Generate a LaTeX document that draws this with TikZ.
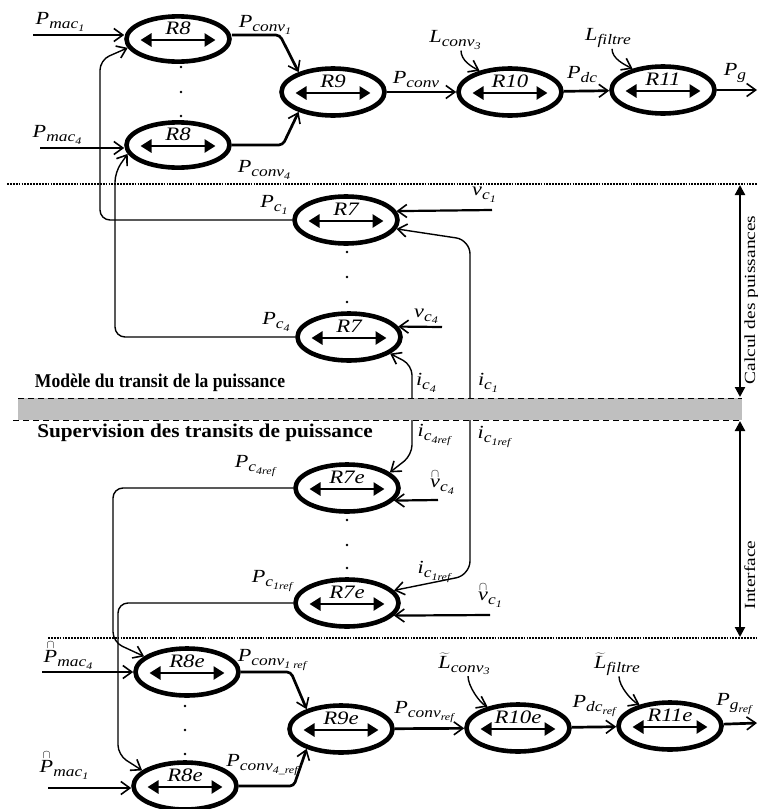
\documentclass[tikz,border=0pt]{standalone}
\usepackage{fontspec}
\setmainfont{Liberation Serif}
\newfontfamily\lblfont[FakeStretch=1.2]{Liberation Serif}
\newfontfamily\narrowbf[FakeStretch=0.9]{Liberation Serif}
\newfontfamily\widebf[FakeStretch=1.09]{Liberation Serif}
\newfontfamily\sidefont[FakeStretch=1.25]{Liberation Serif}
\usetikzlibrary{arrows.meta,shapes.geometric}
\newcommand\sbi[1]{\raisebox{-4pt}{\fontsize{14.5}{15}\selectfont #1}}
\newcommand\sbii[1]{\raisebox{-2.5pt}{\fontsize{10}{11}\selectfont #1}}
\newcommand\hatarc[1]{$\stackrel{\cap}{\hbox{#1}}$}
\newcommand\tld[1]{$\widetilde{\hbox{#1}}$}

\begin{document}
\begin{tikzpicture}[x=1pt,y=-1pt,
    ell/.style={ellipse,draw,line width=4.6pt,minimum width=103pt,minimum height=47pt,inner sep=0pt,
      font=\lblfont\fontsize{19}{21}\selectfont\itshape,text height=11pt,text depth=21pt,
      path picture={\draw[dbl] ([xshift=14pt,yshift=-1pt]path picture bounding box.west)
        -- ([xshift=-14pt,yshift=-1pt]path picture bounding box.east);}},
    dbl/.style={line width=2.8pt,{Triangle[length=11pt,width=13pt]}-{Triangle[length=11pt,width=13pt]}},
    lab/.style={font=\lblfont\fontsize{18.5}{20}\selectfont\itshape,inner sep=1pt},
    conn/.style={line width=2.7pt,->},
    conn2/.style={line width=2.2pt,->},
    fb/.style={line width=1.4pt,rounded corners=10pt,->},
    thinarr/.style={line width=1.4pt,->},
    sep/.style={line width=1.8pt,dash pattern=on 1.8pt off 1.1pt},
    band/.style={line width=1pt,dash pattern=on 6pt off 4pt},
    side/.style={line width=2.2pt,{Triangle[length=10pt,width=10pt]}-{Triangle[length=10pt,width=10pt]}},
    sidelab/.style={font=\sidefont\fontsize{15.5}{17}\selectfont,inner sep=0pt},
    >={Straight Barb[length=9pt,width=13pt,line width=1.6pt]}]
  \useasboundingbox (0,0) rectangle (758,809);

  % separators and band
  \fill[black!25] (18,398) rectangle (742,420);
  \draw[band] (18,398) -- (742,398);
  \draw[band] (13,420) -- (742,420);
  \draw[sep] (7,184) -- (758,184);
  \draw[sep] (48,638) -- (758,638);
  \draw[side] (740,185) -- (740,397);
  \draw[side] (740,421) -- (740,637);
  \node[sidelab,rotate=90,anchor=base] (calc) at (755,300) {Calcul des puissances};
  \node[sidelab,rotate=90,anchor=base] (interf) at (755,575) {Interface};
  \node[font=\narrowbf\fontsize{19.5}{21}\selectfont\bfseries] (modele) at (160,383) {Modèle du transit de la puissance};
  \node[font=\widebf\fontsize{19.5}{21}\selectfont\bfseries] (superv) at (205,433) {Supervision des transits de puissance};

  % model part
  \node[ell,minimum height=42pt] (r8a) at (178,39) {R8};
  \node[ell,minimum height=43pt] (r8b) at (178,145) {R8};
  \node[ell] (r9) at (333,92) {R9};
  \node[ell] (r10) at (510,92) {R10};
  \node[ell] (r11) at (663,90) {R11};
  \node[ell] (r7a) at (346,220) {R7};
  \node[ell] (r7b) at (349,337) {R7};
  \foreach \y in {67,92,116} \fill (181,\y) circle (1.4pt);
  \foreach \y in {252,277,302} \fill (347,\y) circle (1.4pt);

  \coordinate (pm1) at (33,35);
  \coordinate (pm4) at (40,148);
  \coordinate (pg) at (757,90);
  \coordinate (vc1) at (492,210);
  \coordinate (vc4) at (442,327);
  \coordinate (ic1) at (470,398);
  \coordinate (ic4) at (412,398);

  \draw[conn] (pm1) -- (pm1 -| r8a.west);
  \draw[conn] (pm4) -- (pm4 -| r8b.west);
  \draw[conn,rounded corners=4pt] (r8a.east |- pm1) -- ++(48,0) -- (r9.150);
  \draw[conn,rounded corners=4pt] (r8b.east) -- ++(51,0) -- (r9.210);
  \draw[conn] (r9) -- (r10); \draw[conn] (r10) -- (r11); \draw[conn] (r11) -- (pg);
  \draw[conn2] (vc1) -- (r7a.10);
  \draw[conn2] (vc4) -- (r7b.12);
  \draw[fb,rounded corners=14pt] (ic1) -- (470,240) -- (r7a.-10);
  \draw[fb] (ic4) -- (412,365) -- (r7b.-22);
  \draw[fb] (r7a.west) -| (100,60) -- (r8a.190);
  \draw[fb] (r7b.west) -| (115,172) -- (r8b.190);

  \node[lab] (lpmac1) at (60,22) {P\sbi{mac\sbii{1}}};
  \node[lab] (lpmac4) at (57,135) {P\sbi{mac\sbii{4}}};
  \node[lab] (lpconv1) at (265,25) {P\sbi{conv\sbii{1}}};
  \node[lab] (lpconv4) at (264,170) {P\sbi{conv\sbii{4}}};
  \node[lab] (lpconv) at (416,80) {P\sbi{conv}};
  \node[lab] (lpdc) at (582,75) {P\sbi{dc}};
  \node[lab] (lpg) at (735,73) {P\sbi{g}};
  \node[lab] (llconv) at (455,40) {L\sbi{conv\sbii{3}}};
  \node[lab] (llfil) at (608,38) {L\sbi{filtre}};
  \draw[thinarr] ([xshift=6pt]llconv.south) .. controls +(0,10) and +(-8,-4) .. (r10.145);
  \draw[thinarr] ([xshift=4pt]llfil.south) .. controls +(0,10) and +(-8,-4) .. (r11.145);
  \node[lab] (lpc1) at (274,205) {P\sbi{c\sbii{1}}};
  \node[lab] (lpc4) at (276,322) {P\sbi{c\sbii{4}}};
  \node[lab] (lvc1) at (484,195) {v\sbi{c\sbii{1}}};
  \node[lab] (lvc4) at (426,316) {v\sbi{c\sbii{4}}};
  \node[lab] (lic4) at (426,383) {i\sbi{c\sbii{4}}};
  \node[lab] (lic1) at (488,383) {i\sbi{c\sbii{1}}};

  % supervision part
  \node[ell] (r7ea) at (347,488) {R7e};
  \node[ell] (r7eb) at (347,603) {R7e};
  \node[ell] (r8ea) at (187,672) {R8e};
  \node[ell] (r8eb) at (185,786) {R8e};
  \node[ell] (r9e) at (341,729) {R9e};
  \node[ell] (r10e) at (518,728) {R10e};
  \node[ell] (r11e) at (670,726) {R11e};
  \foreach \y in {520,545,568} \fill (347,\y) circle (1.4pt);
  \foreach \y in {706,730,754} \fill (185,\y) circle (1.4pt);

  \coordinate (ic4r) at (412,420);
  \coordinate (ic1r) at (470,420);
  \coordinate (vc4h) at (438,500);
  \coordinate (vc1h) at (490,615);
  \coordinate (pm4h) at (42,672);
  \coordinate (pm1h) at (48,788);
  \coordinate (pgr) at (757,723);

  \draw[fb] (ic4r) -- (412,455) -- (r7ea.20);
  \draw[fb,rounded corners=14pt] (ic1r) -- (470,575) -- (r7eb.15);
  \draw[conn2] (vc4h) -- (r7ea.-15);
  \draw[conn2] (vc1h) -- (r7eb.-15);
  \draw[fb] (r7ea.west) -| (113,642) -- (r8ea.160);
  \draw[fb] (r7eb.west) -| (118,755) -- (r8eb.160);
  \draw[conn] (pm4h) -- (r8ea);
  \draw[conn] (pm1h) -- (pm1h -| r8eb.west);
  \draw[conn,rounded corners=4pt] (r8ea.east) -- ++(50,0) -- (r9e.150);
  \draw[conn,rounded corners=4pt] (r8eb.east) -- ++(55,0) -- (r9e.210);
  \draw[conn] (r9e) -- (r10e); \draw[conn] (r10e) -- (r11e); \draw[conn] (r11e) -- (pgr);

  \node[lab] (lpc4r) at (255,466) {P\sbi{c\sbii{4ref}}};
  \node[lab] (lpc1r) at (272,581) {P\sbi{c\sbii{1ref}}};
  \node[lab] (lic4r) at (434,435) {i\sbi{c\sbii{4ref}}};
  \node[lab] (lic1r) at (494,437) {i\sbi{c\sbii{1ref}}};
  \node[lab] (lic1r2) at (434,572) {i\sbi{c\sbii{1ref}}};
  \node[lab] (lvc4h) at (442,482) {\hatarc{v}\sbi{c\sbii{4}}};
  \node[lab] (lvc1h) at (490,595) {\hatarc{v}\sbi{c\sbii{1}}};
  \node[lab] (lpm4h) at (68,655) {\hatarc{P}\sbi{mac\sbii{4}}};
  \node[lab] (lpm1h) at (64,765) {\hatarc{P}\sbi{mac\sbii{1}}};
  \node[lab] (lpconv1r) at (272,660) {P\sbi{conv\sbii{1 ref}}};
  \node[lab] (lpconv4r) at (262,765) {P\sbi{conv\sbii{4\_ref}}};
  \node[lab] (lpconvr) at (424,712) {P\sbi{conv\sbii{ref}}};
  \node[lab] (lpdcr) at (594,706) {P\sbi{dc\sbii{ref}}};
  \node[lab] (lpgr) at (734,704) {P\sbi{g\sbii{ref}}};
  \node[lab] (llconvh) at (464,664) {\tld{L}\sbi{conv\sbii{3}}};
  \node[lab] (llfilh) at (617,664) {\tld{L}\sbi{filtre}};
  \draw[thinarr] ([xshift=4pt]llconvh.south) .. controls +(0,10) and +(-8,-4) .. (r10e.145);
  \draw[thinarr] ([xshift=2pt]llfilh.south) .. controls +(0,10) and +(-8,-4) .. (r11e.145);
\end{tikzpicture}
\end{document}
